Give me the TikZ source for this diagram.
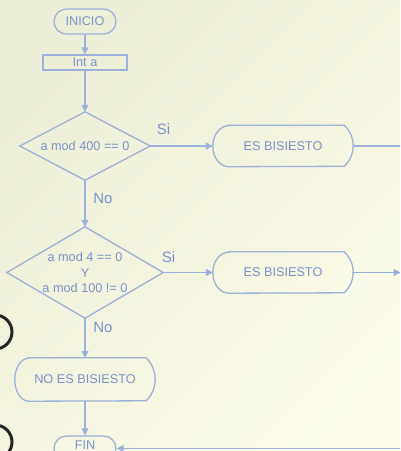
\documentclass[tikz,border=0pt]{standalone}
\usepackage{fontspec}
\setmainfont{Liberation Sans}
\usetikzlibrary{arrows.meta}

\definecolor{flowline}{HTML}{9DB2DB}
\definecolor{flowtext}{HTML}{7C93C9}
\definecolor{bgA}{HTML}{EDEED8}
\definecolor{bgB}{HTML}{FBFBE8}

\tikzset{
  base/.style={inner sep=0pt, text=flowtext, font=\fontsize{12.7}{15.5}\selectfont},
  terminal/.style={base, draw=flowline, line width=1.3pt, rounded corners=12.5pt,
                   minimum width=62pt, minimum height=25pt},
  iobox/.style={base, draw=flowline, line width=1.3pt, minimum width=84pt, minimum height=15pt},
  decision/.style={base, align=center},
  displaybox/.style={base, minimum width=140pt},
  outline/.style={draw=flowline, line width=1.3pt},
  flow/.style={draw=flowline, line width=1.3pt, -{Triangle[length=7pt,width=7pt]}},
  plain/.style={draw=flowline, line width=1.3pt},
  branch/.style={text=flowtext, font=\fontsize{15}{18}\selectfont, inner sep=0pt},
}

% outline of a display symbol: elliptic left side, circular right side
% #1 node, #2 half height, #3 left depth, #4 right depth
\newcommand{\displayoutline}[4]{%
  \pgfmathsetmacro\rRight{(#4*#4+#2*#2)/(2*#4)}%
  \pgfmathsetmacro\aRight{asin(#2/\rRight)}%
  \draw[outline] ([xshift=#3pt]#1.north west) -- ([xshift=-#4pt]#1.north east)
    arc[start angle=\aRight, end angle=-\aRight, radius=\rRight pt]
    -- ([xshift=#3pt]#1.south west)
    arc[start angle=270, end angle=90, x radius=#3pt, y radius=#2pt] -- cycle;
}

% diamond drawn through the four side anchors of a box node
\newcommand{\diamondoutline}[1]{%
  \draw[outline] (#1.north) -- (#1.east) -- (#1.south) -- (#1.west) -- cycle;
}

\begin{document}
\begin{tikzpicture}[x=1pt, y=-1pt]
  \useasboundingbox (0,0) rectangle (400,451);
  \clip (0,0) rectangle (400,451);

  % background
  \shade[top color=bgA, bottom color=bgB, shading angle=45] (0,0) rectangle (400,451);
  \fill[white, opacity=0.18] (180,451) -- (400,200) -- (400,260) -- (240,451) -- cycle;
  \fill[white, opacity=0.14] (280,451) -- (400,320) -- (400,360) -- (315,451) -- cycle;

  % nodes
  \node[terminal] (inicio) at (85,21.5) {INICIO};
  \node[iobox] (inta) at (85,62.5) {Int a};
  \node[decision, minimum width=130pt, minimum height=68pt] (dec1) at (85,146) {a mod 400 == 0};
  \node[displaybox, minimum height=41pt] (si1) at (283,146) {ES BISIESTO};
  \node[decision, minimum width=156pt, minimum height=91pt] (dec2) at (85,272.5)
       {a mod 4 == 0\\Y\\a mod 100 != 0};
  \node[displaybox, minimum height=41pt] (si2) at (283,272.5) {ES BISIESTO};
  \node[displaybox, minimum height=43pt] (nobis) at (85,379.5) {NO ES BISIESTO};
  \node[terminal] (fin) at (85,448.5) {\raisebox{-0.5pt}[0pt][0pt]{FIN}};

  \diamondoutline{dec1}
  \diamondoutline{dec2}
  \displayoutline{si1}{20.5}{16}{9}
  \displayoutline{si2}{20.5}{16}{9}
  \displayoutline{nobis}{21.5}{14}{9}

  % branch labels
  \node[branch] (si1lbl) at (163.5,129) {Si};
  \node[branch] (no1lbl) at (103,198.5) {No};
  \node[branch] (si2lbl) at (168.5,257.5) {Si};
  \node[branch] (no2lbl) at (103,327.5) {No};

  % free ends leaving the frame
  \coordinate (out1) at (405,146);
  \coordinate (out2) at (400.5,272.5);
  \coordinate (in3) at (405,448.5);

  % connectors
  \draw[flow] (inicio) -- (inta);
  \draw[flow] (inta) -- (dec1);
  \draw[flow] (dec1.east) -- (si1.west);
  \draw[plain] (si1.east) -- (out1);
  \draw[flow] (dec1.south) -- (dec2.north);
  \draw[flow] (dec2.east) -- (si2.west);
  \draw[flow] (si2.east) -- (out2);
  \draw[flow] (dec2.south) -- (nobis.north);
  \draw[flow] (nobis.south) -- (fin.north);
  \draw[flow] (in3) -- (fin.east);

  % dark rings at the left edge
  \draw[line width=3pt, black!85] (-5,332) circle[radius=17];
  \draw[line width=3pt, black!85] (-5,442) circle[radius=17];
\end{tikzpicture}
\end{document}
